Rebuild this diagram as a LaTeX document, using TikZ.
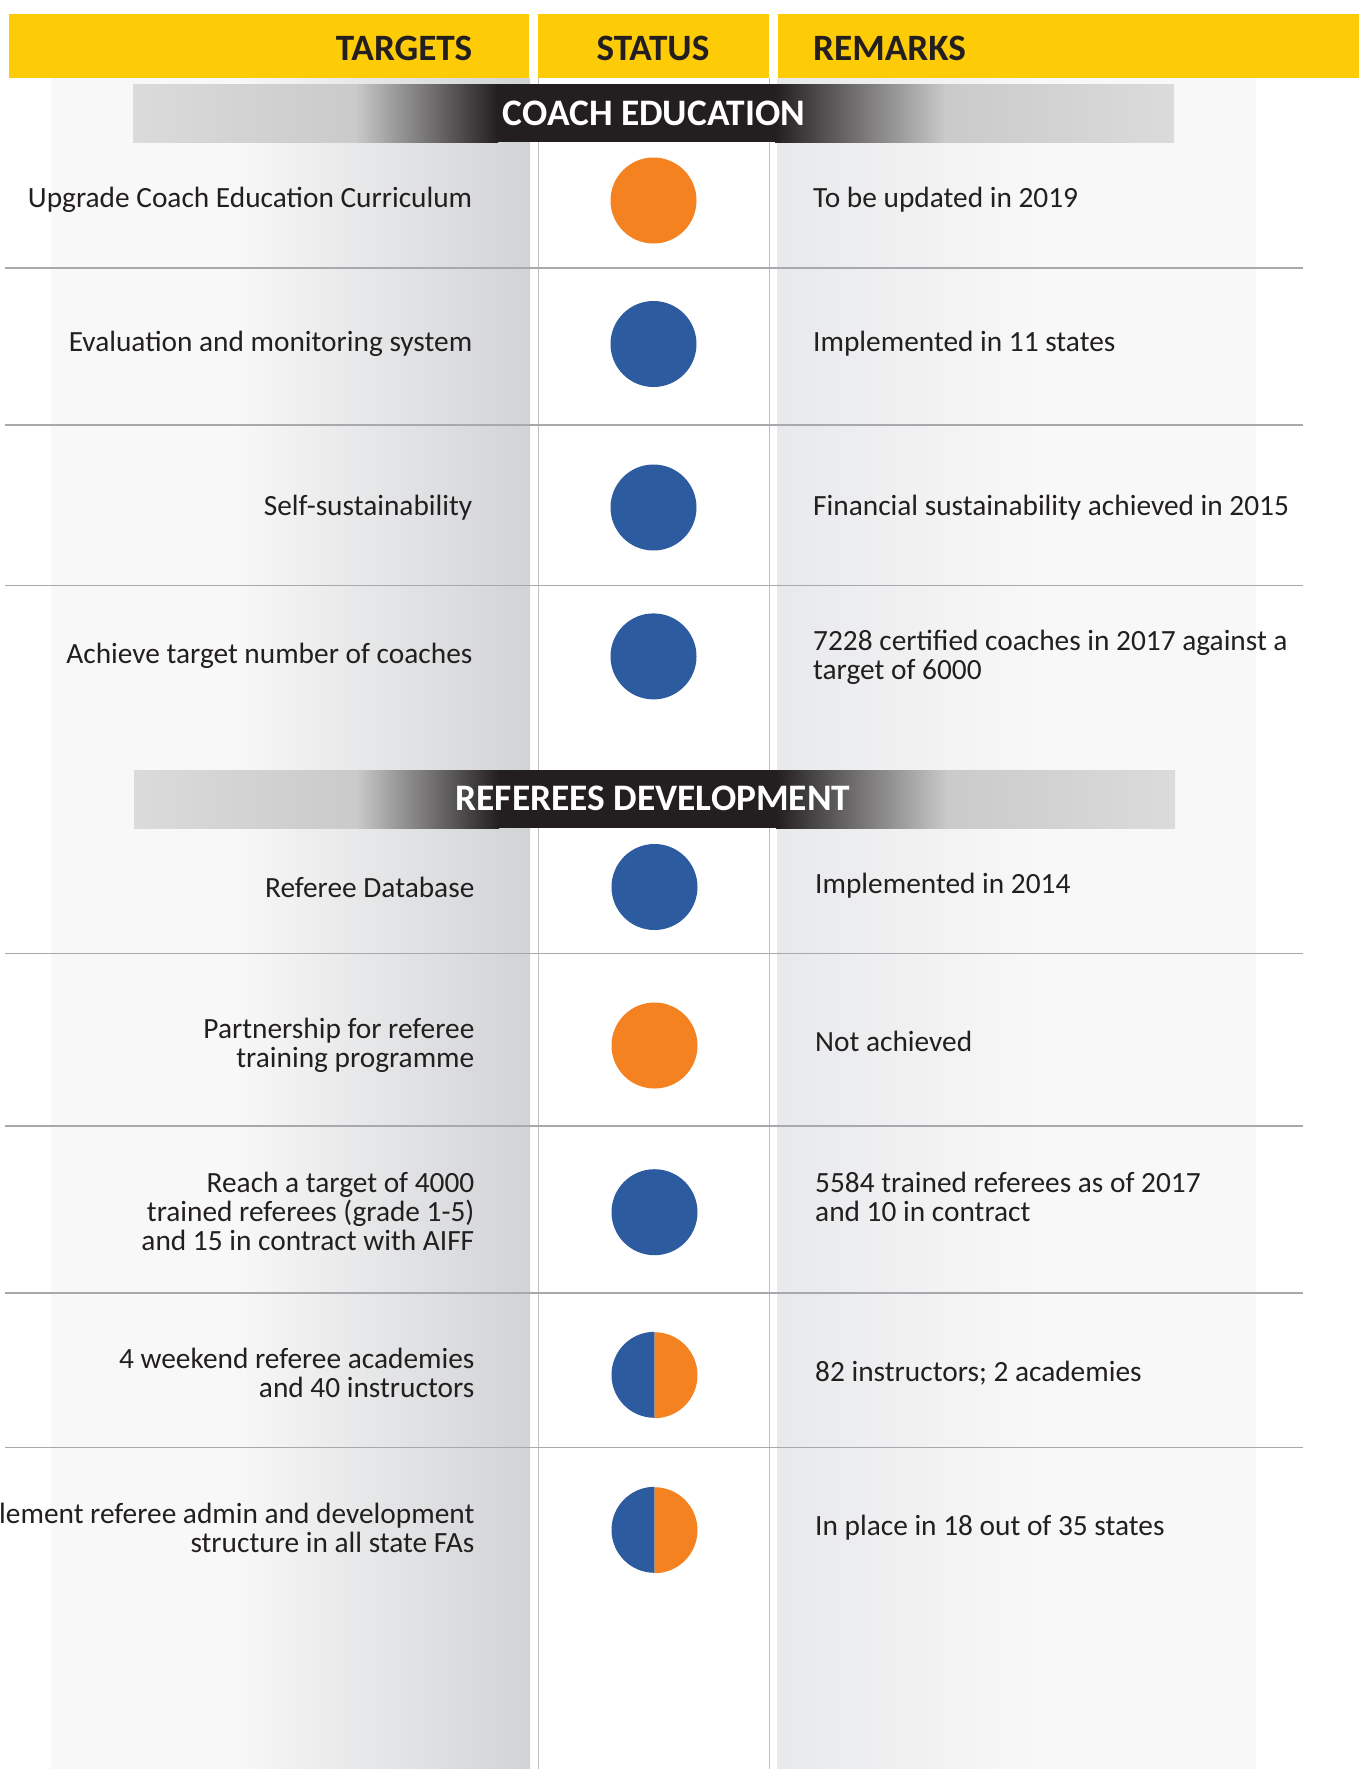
\documentclass[tikz,border=0pt]{standalone}
\usepackage{fontspec}
\setmainfont{Carlito}
\definecolor{ylw}{HTML}{FECB07}
\definecolor{ink}{HTML}{231F20}
\definecolor{orng}{HTML}{F58220}
\definecolor{blu}{HTML}{2D5B9F}
\definecolor{rulec}{HTML}{A8A9AC}
\definecolor{vlinec}{HTML}{BEC0C2}
\definecolor{bandc}{HTML}{DBDBDB}
\definecolor{bandd}{HTML}{CACACA}
\definecolor{lightbg}{HTML}{F8F8F8}
\definecolor{darkbg}{HTML}{D1D3D5}
\definecolor{rmkbg}{HTML}{E8E9EB}
\begin{document}
\begin{tikzpicture}[x=1pt,y=-1pt,
  hdr/.style={font=\fontsize{37.2}{37.2}\selectfont\bfseries, text=ink, inner sep=0},
  secttitle/.style={font=\fontsize{37.4}{37.4}\selectfont\bfseries, text=white, inner sep=0, anchor=base},
  body/.style={font=\fontsize{29.35}{29.35}\selectfont, text=ink, inner sep=0},
  tgt/.style={body, anchor=base east},
  rmk/.style={body, anchor=base west},
  dot/.style={circle, inner sep=0, minimum size=86pt},
  hrule/.style={draw=rulec, line width=1.6pt},
  vrule/.style={draw=vlinec, line width=1pt},
]
\useasboundingbox[fill=white] (0,0) rectangle (1359,1769);

% column backgrounds
\fill[lightbg] (51,78) rectangle (530,1769);
\shade[left color=lightbg, right color=darkbg] (234,78) rectangle (530,1769);
\fill[lightbg] (777,78) rectangle (1256,1769);
\shade[left color=rmkbg, right color=lightbg] (777,78) rectangle (1040,1769);
\draw[vrule] (538,78) -- (538,1769);
\draw[vrule] (769,78) -- (769,1769);

% header
\fill[ylw] (9,14) rectangle (529,78);
\fill[ylw] (538,14) rectangle (769,78);
\fill[ylw] (778,14) rectangle (1359,78);
\node[hdr, anchor=base east] (htargets) at (472.5,61) {TARGETS};
\node[hdr, anchor=base] (hstatus) at (653,61) {STATUS};
\node[hdr, anchor=base west] (hremarks) at (813,61) {REMARKS};

% section band 1
\fill[bandc] (133,84) rectangle (1174,142);
\shade[left color=bandc, right color=bandd] (133,84) rectangle (356,142);
\shade[left color=bandd, right color=ink] (355,84) rectangle (498,142);
\fill[ink] (497,84) rectangle (776,142);
\shade[left color=ink, right color=bandd] (775,84) rectangle (946,142);
\shade[left color=bandd, right color=bandc] (945,84) rectangle (1174,142);
\node[secttitle] (sec1) at (654,125) {COACH EDUCATION};

% section band 2
\fill[bandc] (134,770) rectangle (1175,828);
\shade[left color=bandc, right color=bandd] (134,770) rectangle (357,828);
\shade[left color=bandd, right color=ink] (356,770) rectangle (499,828);
\fill[ink] (498,770) rectangle (777,828);
\shade[left color=ink, right color=bandd] (776,770) rectangle (947,828);
\shade[left color=bandd, right color=bandc] (946,770) rectangle (1175,828);
\node[secttitle] (sec2) at (653,810.7) {REFEREES DEVELOPMENT};

% horizontal rules
\foreach \yy in {267.7,425.2,585.3,953.5,1125.8,1292.8,1447.3}
  \draw[hrule] (5,\yy) -- (1303,\yy);

% status dots
\node[dot, fill=orng] (s1) at (653.5,200.5) {};
\node[dot, fill=blu] (s2) at (653.5,344) {};
\node[dot, fill=blu] (s3) at (653.5,507.5) {};
\node[dot, fill=blu] (s4) at (653.5,656.4) {};
\node[dot, fill=blu] (s5) at (654.5,887) {};
\node[dot, fill=orng] (s6) at (654.5,1045.5) {};
\node[dot, fill=blu] (s7) at (654.5,1212.2) {};
\node[dot] (s8) at (654.5,1375) {};
\fill[blu] (s8.north) arc[start angle=90, end angle=270, radius=43pt] -- cycle;
\fill[orng] (s8.south) arc[start angle=270, end angle=450, radius=43pt] -- cycle;
\node[dot] (s9) at (654.5,1530) {};
\fill[blu] (s9.north) arc[start angle=90, end angle=270, radius=43pt] -- cycle;
\fill[orng] (s9.south) arc[start angle=270, end angle=450, radius=43pt] -- cycle;

% targets
\node[tgt] (t1) at (472.5,207.5) {Upgrade Coach Education Curriculum};
\node[tgt] (t2) at (472.5,351) {Evaluation and monitoring system};
\node[tgt] (t3) at (472.5,515) {Self-sustainability};
\node[tgt] (t4) at (472.5,663.5) {Achieve target number of coaches};
\node[tgt] (t5) at (474.5,897) {Referee Database};
\node[tgt] (t6a) at (474.5,1038) {Partnership for referee};
\node[tgt] (t6b) at (474.5,1067) {training programme};
\node[tgt] (t7a) at (474.5,1192.7) {Reach a target of 4000};
\node[tgt] (t7b) at (474.5,1221.7) {trained referees (grade 1-5)};
\node[tgt] (t7c) at (474.5,1250.7) {and 15 in contract with AIFF};
\node[tgt] (t8a) at (474.5,1368) {4 weekend referee academies};
\node[tgt] (t8b) at (474.5,1397) {and 40 instructors};
\node[tgt] (t9a) at (474.5,1523) {lement referee admin and development};
\node[tgt] (t9b) at (474.5,1552) {structure in all state FAs};

% remarks
\node[rmk] (r1) at (813,207.5) {To be updated in 2019};
\node[rmk] (r2) at (813,351) {Implemented in 11 states};
\node[rmk] (r3) at (813,515) {Financial sustainability achieved in 2015};
\node[rmk] (r4a) at (813,650) {7228 certified coaches in 2017 against a};
\node[rmk] (r4b) at (813,679) {target of 6000};
\node[rmk] (r5) at (815,893.5) {Implemented in 2014};
\node[rmk] (r6) at (815,1051.5) {Not achieved};
\node[rmk] (r7a) at (815,1192.7) {5584 trained referees as of 2017};
\node[rmk] (r7b) at (815,1221.7) {and 10 in contract};
\node[rmk] (r8) at (815,1381.7) {82 instructors; 2 academies};
\node[rmk] (r9) at (815,1535) {In place in 18 out of 35 states};
\end{tikzpicture}
\end{document}
